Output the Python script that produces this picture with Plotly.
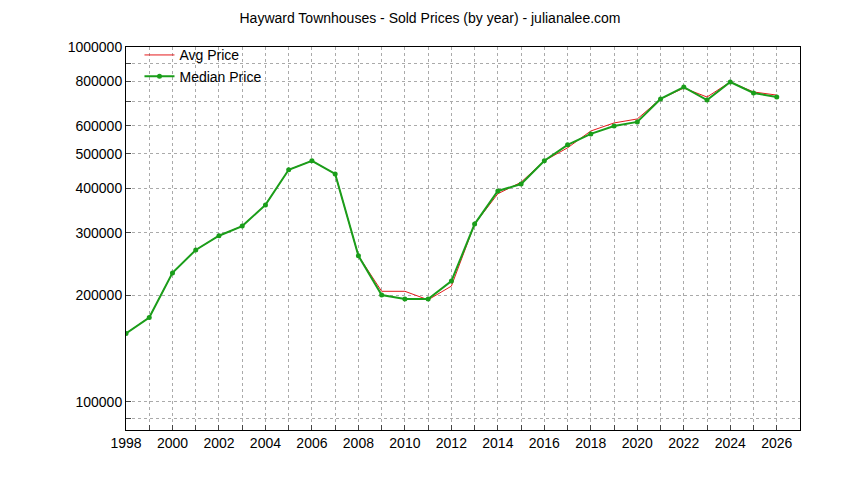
import plotly.graph_objects as go

years = list(range(1998, 2027))
avg_price = [156000, 173000, 231000, 268000, 294000, 313000, 359000, 451000, 478000, 439000,
             258000, 205000, 205000, 194000, 212000, 317000, 386000, 416000, 478000, 520000,
             580000, 611000, 627000, 714000, 766000, 723000, 797000, 747000, 732000]
median_price = [156000, 173000, 231000, 268000, 294000, 313000, 359000, 451000, 478000, 439000,
                258000, 200000, 195000, 195000, 219000, 317000, 393000, 411000, 478000, 530000,
                569000, 599000, 615000, 714000, 771000, 709000, 797000, 742000, 723000]

y_ticks = [90000, 100000, 200000, 300000, 400000, 500000, 600000, 700000, 800000, 900000, 1000000]
y_labels = ['', '100000', '200000', '300000', '400000', '500000', '600000', '', '800000', '', '1000000']
x_labels = [str(y) if y % 2 == 0 else '' for y in years]

fig = go.Figure()
fig.add_trace(go.Scatter(x=years, y=avg_price, mode='lines', name='Avg Price',
                         line=dict(color='#e41a1c', width=1)))
fig.add_trace(go.Scatter(x=years, y=median_price, mode='lines+markers', name='Median Price',
                         line=dict(color='#1a9e1a', width=2), marker=dict(size=5, color='#1a9e1a')))

grid = dict(showgrid=True, gridcolor='#aaa', griddash='dot', gridwidth=1,
            showline=True, linecolor='black', mirror=True, ticks='inside', ticklen=5,
            zeroline=False, tickfont=dict(size=14, color='black'))
fig.update_xaxes(range=[1998, 2027], tickvals=years, ticktext=x_labels, **grid)
fig.update_yaxes(type='log', range=[4.921, 6.0], tickvals=y_ticks, ticktext=y_labels, **grid)

fig.update_layout(
    width=844, height=480, plot_bgcolor='white', paper_bgcolor='white',
    font=dict(family='Liberation Sans, Arial', size=14, color='black'),
    title=dict(text='Hayward Townhouses - Sold Prices (by year) - julianalee.com',
               x=0.5, xanchor='center', y=0.99, font=dict(size=14)),
    margin=dict(l=118, r=52, t=39, b=58),
    legend=dict(x=0.02, y=1.02, xanchor='left', yanchor='top', bgcolor='rgba(0,0,0,0)',
                font=dict(size=14), tracegroupgap=0),
)
fig.write_html('out.html')
